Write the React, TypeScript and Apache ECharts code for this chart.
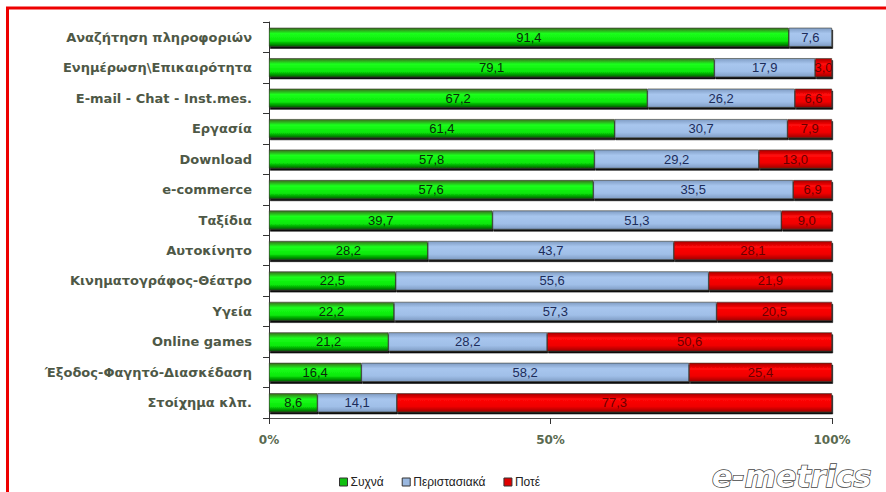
import React, { useEffect, useRef } from "react";
import * as echarts from "echarts";

const categories = [
  "Αναζήτηση πληροφοριών",
  "Ενημέρωση\\Επικαιρότητα",
  "E-mail - Chat - Inst.mes.",
  "Εργασία",
  "Download",
  "e-commerce",
  "Ταξίδια",
  "Αυτοκίνητο",
  "Κινηματογράφος-Θέατρο",
  "Υγεία",
  "Online games",
  "Έξοδος-Φαγητό-Διασκέδαση",
  "Στοίχημα κλπ.",
];
const often = [91.4, 79.1, 67.2, 61.4, 57.8, 57.6, 39.7, 28.2, 22.5, 22.2, 21.2, 16.4, 8.6];
const sometimes = [7.6, 17.9, 26.2, 30.7, 29.2, 35.5, 51.3, 43.7, 55.6, 57.3, 28.2, 58.2, 14.1];
const never = [0, 3.0, 6.6, 7.9, 13.0, 6.9, 9.0, 28.1, 21.9, 20.5, 50.6, 25.4, 77.3];
const seriesNames = ["Συχνά", "Περιστασιακά", "Ποτέ"];
const xTicks = [0, 50, 100];

const grad = (edge: string, mid: string, mid2: string, bottom: string) =>
  new echarts.graphic.LinearGradient(0, 0, 0, 1, [
    { offset: 0, color: edge },
    { offset: 0.3, color: mid },
    { offset: 0.7, color: mid2 },
    { offset: 1, color: bottom },
  ]);

const NARROW = "'Liberation Sans Narrow', 'Liberation Sans', Arial, sans-serif";
const WIDE = "'DejaVu Sans', Verdana, sans-serif";

export default function App() {
  const ref = useRef<HTMLDivElement>(null);
  useEffect(() => {
    if (!ref.current) return;
    const chart = echarts.init(ref.current, null, { renderer: "svg" });
    const raw = [often, sometimes, never];
    const totals = categories.map((_, i) => often[i] + sometimes[i] + never[i]);
    const styles = [
      {
        color: grad("#3a6a20", "#1cff1c", "#08e808", "#006000"),
        legendColor: "#10c010",
        labelColor: "#0a2a0a",
      },
      {
        color: grad("#7f9cc4", "#a8c6ee", "#a0bfe8", "#7f9cc4"),
        legendColor: "#9ab8e0",
        labelColor: "#1c2c5a",
      },
      {
        color: grad("#a80000", "#ff0808", "#f00000", "#a00000"),
        legendColor: "#e00000",
        labelColor: "#6a0000",
      },
    ];
    const fmt = (v: number) => v.toFixed(1).replace(".", ",");
    const series = raw.map((arr, s) => ({
      name: seriesNames[s],
      type: "bar",
      stack: "total",
      barWidth: 19,
      data: arr.map((v, i) => (v / totals[i]) * 100),
      itemStyle: {
        color: styles[s].color,
        borderColor: "#3a3a30",
        borderWidth: 0.6,
        shadowColor: "rgba(0,0,0,0.95)",
        shadowOffsetY: 2,
        shadowOffsetX: 1,
        shadowBlur: 0,
      },
      label: {
        show: true,
        position: "inside",
        fontSize: 13,
        fontFamily: NARROW,
        color: styles[s].labelColor,
        formatter: (p: any) => (arr[p.dataIndex] > 0 ? fmt(arr[p.dataIndex]) : ""),
      },
    }));

    chart.setOption({
      animation: false,
      backgroundColor: "#ffffff",
      grid: { left: 269, right: 54, top: 22, bottom: 74, containLabel: false },
      legend: {
        data: seriesNames.map((n, i) => ({
          name: n,
          itemStyle: { color: styles[i].legendColor, borderColor: "#333", borderWidth: 1 },
        })),
        left: 334,
        top: 471,
        icon: "rect",
        itemWidth: 8,
        itemHeight: 8,
        itemGap: 18,
        textStyle: {
          fontSize: 12,
          color: "#222",
          padding: [0, 0, 0, -2],
          fontFamily: NARROW,
        },
      },
      xAxis: {
        type: "value",
        min: 0,
        max: 100,
        interval: 50,
        axisLine: { show: true, lineStyle: { color: "#555", width: 1 } },
        axisTick: { show: true, length: 6, lineStyle: { color: "#333" } },
        splitLine: { show: false },
        axisLabel: {
          margin: 16,
          fontSize: 12,
          fontWeight: "bold",
          color: "#5a6a50",
          fontFamily: WIDE,
          formatter: (v: number) => (xTicks.includes(v) ? v + "%" : ""),
        },
      },
      yAxis: {
        type: "category",
        data: categories,
        inverse: true,
        axisLine: { show: true, lineStyle: { color: "#333", width: 1 } },
        axisTick: { show: true, length: 6, lineStyle: { color: "#333" } },
        axisLabel: {
          margin: 17,
          fontSize: 13,
          fontWeight: "bold",
          color: "#4e5846",
          fontFamily: WIDE,
        },
      },
      series,
      graphic: [
        {
          type: "rect",
          shape: { x: 7.5, y: 8, width: 960, height: 560 },
          style: { fill: "none", stroke: "#ee0000", lineWidth: 3 },
          silent: true,
        },
        {
          type: "text",
          x: 712,
          y: 491,
          style: {
            text: "e-metrics",
            fontSize: 30,
            fontStyle: "italic",
            fontWeight: "bold",
            fontFamily: WIDE,
            fill: "#ffffff",
            stroke: "#444",
            lineWidth: 1.5,
            textVerticalAlign: "bottom",
          },
          silent: true,
        },
      ],
    });
    return () => chart.dispose();
  }, []);
  return (
    <div
      ref={ref}
      style={{ position: "fixed", left: 0, top: 0, width: 886, height: 492, background: "#fff" }}
    />
  );
}
